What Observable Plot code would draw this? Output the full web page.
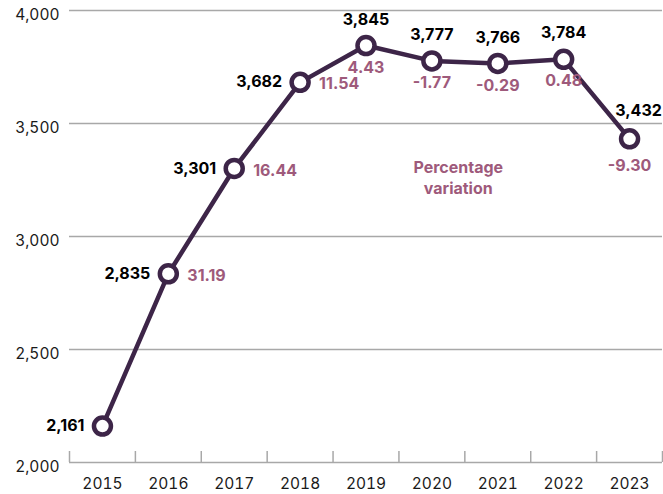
<!DOCTYPE html>
<html>
<head>
<meta charset="utf-8">
<script src="https://cdn.jsdelivr.net/npm/d3@7"></script>
<script src="https://cdn.jsdelivr.net/npm/@observablehq/plot@0.6"></script>
<style>
  html, body { margin: 0; padding: 0; background: #fff; }
  #chart { width: 663px; height: 494px; }
</style>
</head>
<body>
<div id="chart"></div>
<script>
const years = [2015, 2016, 2017, 2018, 2019, 2020, 2021, 2022, 2023];
const values = [2161, 2835, 3301, 3682, 3845, 3777, 3766, 3784, 3432];
const pctChange = [null, 31.19, 16.44, 11.54, 4.43, -1.77, -0.29, 0.48, -9.30];
const yTicks = [2000, 2500, 3000, 3500, 4000];
const noteText = ["Percentage\nvariation"];
const noteYear = [2020.4];
const noteValue = [3265];

const lineColor = "#3d2548";
const pctColor = "#9e5a7b";

const data = years.map((year, i) => ({year, value: values[i], pct: pctChange[i]}));
const leftSide = data.filter(d => d.year <= 2018);
const topSide = data.filter(d => d.year >= 2019 && d.year < 2023);
const lastSide = data.filter(d => d.year === 2023);
const boundaries = [years[0] - 0.5, ...years.map(y => y + 0.5)];
const note = noteText.map((t, i) => ({text: t, year: noteYear[i], value: noteValue[i]}));

const labelFont = "Inter, 'Open Sans', sans-serif";
const fmt = d3.format(",");

const chart = Plot.plot({
  width: 663,
  height: 494,
  marginLeft: 69,
  marginRight: 1,
  marginTop: 10,
  marginBottom: 32,
  style: {fontFamily: "Inter, 'Liberation Sans', Arial, sans-serif", fontSize: "15.5px", background: "#fff", color: "#1a1a1a"},
  x: {domain: [years[0] - 0.5, years[years.length - 1] + 0.5]},
  y: {domain: [2000, 4000]},
  marks: [
    Plot.ruleY(yTicks, {stroke: "#a8a8a8", strokeWidth: 1.5}),
    Plot.ruleX(boundaries, {x: d => d, y1: 2000, y2: 2000, insetBottom: 11, stroke: "#a8a8a8", strokeWidth: 1.5}),
    Plot.axisY({ticks: yTicks, tickSize: 0, tickPadding: 10, dy: 5, tickFormat: fmt, label: null}),
    Plot.axisX({ticks: years, tickSize: 0, tickPadding: 15, tickFormat: d => String(d), label: null}),
    Plot.line(data, {x: "year", y: "value", stroke: lineColor, strokeWidth: 4.5}),
    Plot.dot(data, {x: "year", y: "value", r: 8.5, fill: "#fff", stroke: lineColor, strokeWidth: 4.5}),
    Plot.text(leftSide, {x: "year", y: "value", text: d => fmt(d.value), textAnchor: "end", dx: -18, fontSize: 16, fontWeight: 700, fill: "#000", fontFamily: labelFont}),
    Plot.text(leftSide.filter(d => d.pct != null), {x: "year", y: "value", text: d => d.pct.toFixed(2), textAnchor: "start", dx: 19, dy: 2, fontSize: 16, fontWeight: 700, fill: pctColor, fontFamily: labelFont}),
    Plot.text(topSide, {x: "year", y: "value", text: d => fmt(d.value), dy: -26, fontSize: 16, fontWeight: 700, fill: "#000", fontFamily: labelFont}),
    Plot.text(lastSide, {x: "year", y: "value", text: d => fmt(d.value), dy: -28, dx: 9, fontSize: 16, fontWeight: 700, fill: "#000", fontFamily: labelFont}),
    Plot.text(topSide, {x: "year", y: "value", text: d => d.pct.toFixed(2), dy: 22, fontSize: 16, fontWeight: 700, fill: pctColor, fontFamily: labelFont}),
    Plot.text(lastSide, {x: "year", y: "value", text: d => d.pct.toFixed(2), dy: 27, fontSize: 16, fontWeight: 700, fill: pctColor, fontFamily: labelFont}),
    Plot.text(note, {x: "year", y: "value", text: "text", fontSize: 16, fontWeight: 700, fill: pctColor, fontFamily: labelFont, lineHeight: 1.3})
  ]
});
document.getElementById("chart").appendChild(chart);
</script>
</body>
</html>
